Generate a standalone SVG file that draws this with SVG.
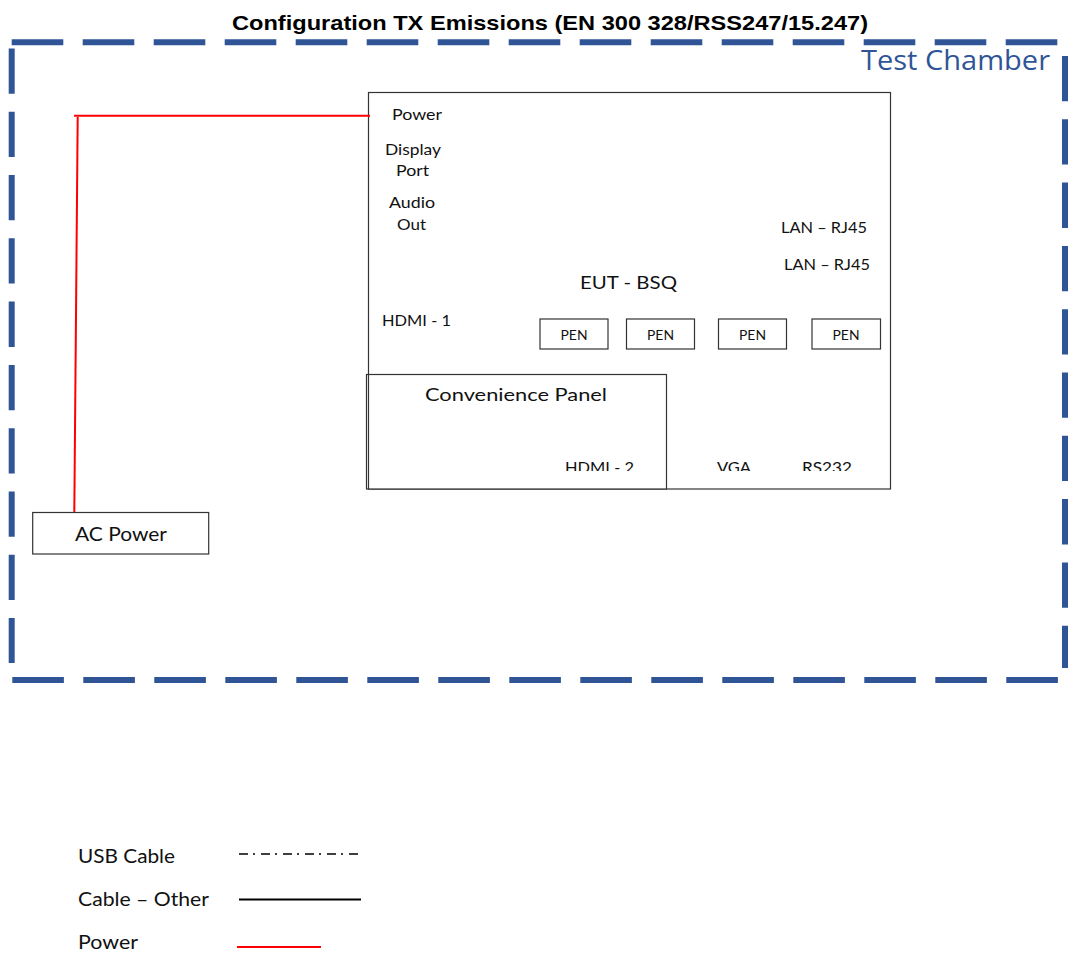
<svg xmlns="http://www.w3.org/2000/svg" width="1072" height="954" viewBox="0 0 1072 954">
<defs>
<style>
.t{font-family:Lato,"Liberation Sans",sans-serif;fill:#111}
.box{fill:#fff;stroke:#333;stroke-width:1.2}
.ch{fill:none;stroke:#2F5597;stroke-width:6}
.pw{fill:none;stroke:#FF0000;stroke-width:2}
</style>
<clipPath id="cut"><rect x="0" y="0" width="1072" height="471"/></clipPath>
</defs>
<rect width="1072" height="954" fill="#fff"/>
<text x="550" y="30" text-anchor="middle" font-family="'Liberation Sans',Arial,sans-serif" font-weight="bold" font-size="21" fill="#000" textLength="636" lengthAdjust="spacingAndGlyphs">Configuration TX Emissions (EN 300 328/RSS247/15.247)</text>
<g id="test-chamber">
<line class="ch" x1="11.7" y1="42.3" x2="1060" y2="42.3" stroke-dasharray="51.6 19.4"/>
<line class="ch" x1="12.3" y1="680" x2="1060" y2="680" stroke-dasharray="51.6 19.4"/>
<line class="ch" x1="11.7" y1="48.4" x2="11.7" y2="663" stroke-dasharray="45.3 18"/>
<line class="ch" x1="1065" y1="56" x2="1065" y2="668" stroke-dasharray="45.3 18"/>
<text x="861" y="70" font-family="'Open Sans','Noto Sans',sans-serif" font-size="27.5" fill="#2F5597" textLength="189" lengthAdjust="spacingAndGlyphs">Test Chamber</text>
</g>
<g id="eut">
<rect class="box" x="368.5" y="92.5" width="522" height="396.5"/>
<text class="t" font-size="15" x="392" y="120" textLength="50" lengthAdjust="spacingAndGlyphs">Power</text>
<text class="t" font-size="15" x="385" y="155" textLength="56" lengthAdjust="spacingAndGlyphs">Display</text>
<text class="t" font-size="15" x="396" y="176" textLength="33" lengthAdjust="spacingAndGlyphs">Port</text>
<text class="t" font-size="15" x="389" y="208" textLength="46" lengthAdjust="spacingAndGlyphs">Audio</text>
<text class="t" font-size="15" x="397" y="230" textLength="29" lengthAdjust="spacingAndGlyphs">Out</text>
<text class="t" font-size="15" x="781" y="233" textLength="86" lengthAdjust="spacingAndGlyphs">LAN – RJ45</text>
<text class="t" font-size="15" x="784" y="270" textLength="86" lengthAdjust="spacingAndGlyphs">LAN – RJ45</text>
<text class="t" font-size="18" x="580" y="289" textLength="97" lengthAdjust="spacingAndGlyphs">EUT - BSQ</text>
<text class="t" font-size="15" x="382" y="326" textLength="69" lengthAdjust="spacingAndGlyphs">HDMI - 1</text>
<g clip-path="url(#cut)">
<text class="t" font-size="15" x="717" y="473" textLength="34" lengthAdjust="spacingAndGlyphs">VGA</text>
<text class="t" font-size="15" x="802" y="473" textLength="50" lengthAdjust="spacingAndGlyphs">RS232</text>
</g>
</g>
<g id="pen-1"><rect class="box" x="540" y="319" width="68" height="30"/><text class="t" font-size="13" x="560.5" y="340" textLength="27" lengthAdjust="spacingAndGlyphs">PEN</text></g>
<g id="pen-2"><rect class="box" x="626.5" y="319" width="68" height="30"/><text class="t" font-size="13" x="647" y="340" textLength="27" lengthAdjust="spacingAndGlyphs">PEN</text></g>
<g id="pen-3"><rect class="box" x="718.5" y="319" width="68" height="30"/><text class="t" font-size="13" x="739" y="340" textLength="27" lengthAdjust="spacingAndGlyphs">PEN</text></g>
<g id="pen-4"><rect class="box" x="812" y="319" width="68.5" height="30"/><text class="t" font-size="13" x="832.5" y="340" textLength="27" lengthAdjust="spacingAndGlyphs">PEN</text></g>
<g id="convenience-panel">
<rect class="box" x="366.5" y="374.5" width="300" height="114.5"/>
<line x1="368.5" y1="374.5" x2="368.5" y2="489" stroke="#333" stroke-width="1.2"/>
<text class="t" font-size="18" x="425" y="401" textLength="182" lengthAdjust="spacingAndGlyphs">Convenience Panel</text>
<g clip-path="url(#cut)">
<text class="t" font-size="15" x="565" y="473" textLength="69" lengthAdjust="spacingAndGlyphs">HDMI - 2</text>
</g>
</g>
<g id="ac-power">
<rect class="box" x="32.7" y="512.5" width="176" height="41.5"/>
<text class="t" font-size="19.5" x="75" y="541" textLength="92" lengthAdjust="spacingAndGlyphs">AC Power</text>
</g>
<g id="connectors">
<polyline class="pw" points="370,115.7 74,115.7"/>
<line class="pw" x1="77.7" y1="117" x2="74.3" y2="512"/>
</g>
<g id="legend">
<text class="t" font-size="18.5" x="78" y="862.5" textLength="97" lengthAdjust="spacingAndGlyphs">USB Cable</text>
<line x1="239" y1="854" x2="362" y2="854" stroke="#000" stroke-width="1.5" stroke-dasharray="9 5 2 6"/>
<text class="t" font-size="18.5" x="78" y="906" textLength="131" lengthAdjust="spacingAndGlyphs">Cable – Other</text>
<line x1="239" y1="899.5" x2="361" y2="899.5" stroke="#000" stroke-width="1.8"/>
<text class="t" font-size="18.5" x="78" y="949" textLength="60" lengthAdjust="spacingAndGlyphs">Power</text>
<line class="pw" x1="237" y1="947" x2="321" y2="947"/>
</g>
</svg>
